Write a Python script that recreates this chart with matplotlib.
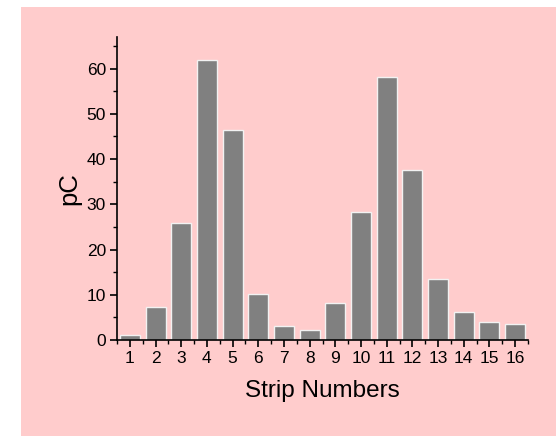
import matplotlib
matplotlib.use("Agg")
import matplotlib.pyplot as plt
from matplotlib.patches import Rectangle
from matplotlib.ticker import MultipleLocator

strips = list(range(1, 17))
values = [1.2, 7.2, 25.8, 62.0, 46.4, 10.2, 3.1, 2.3, 8.2, 28.4, 58.2, 37.6, 13.5, 6.2, 4.0, 3.6]

plt.rcParams['font.family'] = ['Liberation Sans', 'DejaVu Sans']

W, H = 556, 436
fig = plt.figure(figsize=(W / 100, H / 100), dpi=100)
fig.patch.set_facecolor('white')
fig.patches.append(Rectangle((21 / W, 0), 1 - 21 / W, 1 - 7 / H,
                             transform=fig.transFigure, facecolor='#FFCCCC',
                             edgecolor='none', zorder=-10))

ax = fig.add_axes([117 / W, (H - 340) / H, (528 - 117) / W, (340 - 37) / H])
ax.set_facecolor('none')
ax.bar(strips, values, width=0.78, color='#808080', edgecolor='#F2F2F2', linewidth=1.0)

ax.set_xlim(0.5, 16.5)
ax.set_ylim(0, 67)
ax.set_xticks(strips)
ax.xaxis.set_minor_locator(MultipleLocator(0.5))
ax.yaxis.set_major_locator(MultipleLocator(10))
ax.yaxis.set_minor_locator(MultipleLocator(5))

for s in ['top', 'right']:
    ax.spines[s].set_visible(False)
for s in ['left', 'bottom']:
    ax.spines[s].set_linewidth(1.2)
    ax.spines[s].set_color('black')

ax.tick_params(axis='both', which='major', direction='out', length=5, width=1.2,
               labelsize=12.5, pad=3)
ax.tick_params(axis='both', which='minor', direction='out', length=3, width=1.0)

ax.set_xlabel('Strip Numbers', fontsize=17.5, labelpad=10)
ax.set_ylabel('pC', fontsize=18.5, labelpad=4)

fig.savefig('out.png', dpi=100)
